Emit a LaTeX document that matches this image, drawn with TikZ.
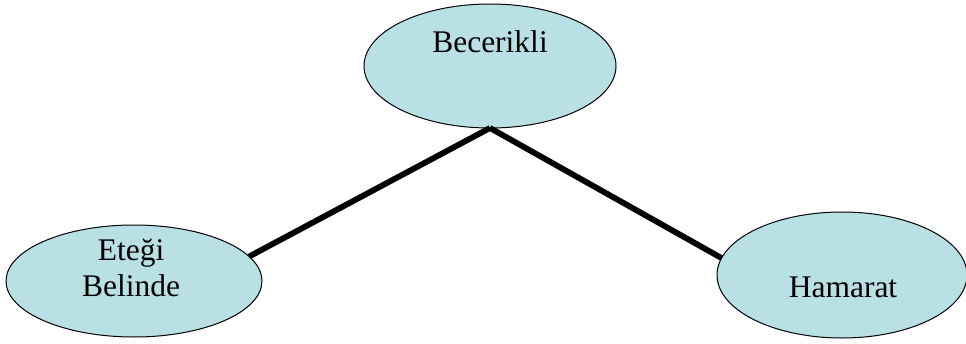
\documentclass[tikz,border=0pt]{standalone}
\usepackage{fontspec}
\setmainfont{Liberation Serif}
\usetikzlibrary{shapes.geometric}
\definecolor{bubble}{RGB}{185,224,228}
\begin{document}
\begin{tikzpicture}[x=1pt,y=1pt,
  bubble/.style={ellipse,draw=black,line width=1pt,fill=bubble,inner sep=0pt,outer sep=0pt},
  lbl/.style={anchor=base,inner sep=0pt,font=\fontsize{31.5}{36}\selectfont},
  link/.style={line width=5.8pt,draw=black}]
\useasboundingbox (0,0) rectangle (966,343);
\node[bubble,minimum width=252pt,minimum height=124pt] (t) at (490,277) {};
\node[bubble,minimum width=256pt,minimum height=112pt] (l) at (134,62) {};
\node[bubble,minimum width=250pt,minimum height=126pt] (r) at (842,68) {};
\node[lbl] (tt) at (490,290) {Becerikli};
\node[lbl] (l1) at (131,83) {Eteği};
\node[lbl] (l2) at (131,47) {Belinde};
\node[lbl] (rt) at (843,46) {Hamarat};
\draw[link] (t.south) -- (l.12);
\draw[link] (t.south) -- (r.172);
\end{tikzpicture}
\end{document}
